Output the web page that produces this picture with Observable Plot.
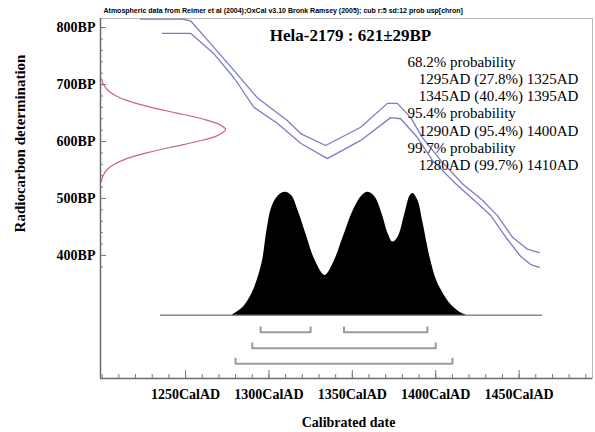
<!DOCTYPE html>
<html>
<head>
<meta charset="utf-8">
<script src="https://cdn.jsdelivr.net/npm/d3@7"></script>
<script src="https://cdn.jsdelivr.net/npm/@observablehq/plot@0.6"></script>
<style>
  html, body { margin: 0; padding: 0; background: #fff; }
  #chart svg { display: block; }
</style>
</head>
<body>
<div id="chart"></div>
<script>
// Sample Hela-2179, radiocarbon age 621 ± 29 BP
const sampleName = "Hela-2179";
const c14Age = 621;
const c14Err = 29;

// Measured radiocarbon age distribution (left, red): BP and relative density
const redBP =      [530, 540, 550, 560, 570, 580, 590, 600, 610, 621, 630, 640, 650, 660, 670, 680, 690, 700, 710];
const redDensity = [0.007, 0.02, 0.05, 0.11, 0.21, 0.37, 0.565, 0.77, 0.93, 1.0, 0.95, 0.81, 0.61, 0.405, 0.24, 0.126, 0.059, 0.024, 0.009];

// Calibration curve band (upper and lower 1σ lines)
const calUpperYear = [1223, 1248, 1253, 1265, 1279, 1293, 1311, 1319, 1334, 1355, 1371, 1377, 1385, 1392, 1403, 1416, 1428, 1437, 1446, 1455, 1462];
const calUpperBP   = [815, 815, 812, 772, 725, 677, 637, 614, 593, 625, 667, 667, 642, 607, 567, 526, 497, 470, 432, 411, 405];
const calLowerYear = [1236, 1253, 1267, 1279, 1291, 1305, 1319, 1335, 1355, 1373, 1379, 1389, 1398, 1412, 1423, 1433, 1442, 1451, 1457, 1462];
const calLowerBP   = [790, 790, 754, 712, 660, 632, 597, 570, 602, 642, 640, 607, 567, 526, 497, 470, 432, 398, 384, 379];

// Calibrated date probability distribution (black)
const distYear = [1277.8, 1284.6, 1290.6, 1295.8, 1298.8, 1301.8, 1305.6, 1309.8, 1313.8, 1317.5, 1322.8, 1327.7, 1333.7,
                  1338.5, 1344.5, 1350.5, 1355.7, 1359.5, 1363.7, 1367.7, 1371.4, 1374.3, 1377.4, 1381.6, 1384.6, 1386.4,
                  1389.4, 1392.4, 1396.6, 1400.6, 1404.4, 1409.6, 1415.6, 1418.6];
const distProb = [0, 0.065, 0.2, 0.42, 0.69, 0.88, 0.97, 1.0, 0.97, 0.85, 0.635, 0.446, 0.324,
                  0.42, 0.635, 0.85, 0.97, 1.0, 0.96, 0.83, 0.665, 0.595, 0.635, 0.83, 0.97, 0.99,
                  0.93, 0.75, 0.47, 0.28, 0.18, 0.08, 0.016, 0];

// Calibrated ranges
const levelNames  = ["68.2%", "95.4%", "99.7%"];
const rangeLevel  = [0, 0, 1, 2];
const rangeStart  = [1295, 1345, 1290, 1280];
const rangeEnd    = [1325, 1395, 1400, 1410];
const rangePct    = ["27.8%", "40.4%", "95.4%", "99.7%"];

// Axis ticks and labels
const xMajorTicks = [1250, 1300, 1350, 1400, 1450];
const xTickLabels = ["1250CalAD", "1300CalAD", "1350CalAD", "1400CalAD", "1450CalAD"];
const yMajorTicks = [400, 500, 600, 700, 800];
const yTickLabels = ["400BP", "500BP", "600BP", "700BP", "800BP"];

const headerText = "Atmospheric data from Reimer et al (2004);OxCal v3.10 Bronk Ramsey (2005); cub r:5 sd:12 prob usp[chron]";
const xTitle = "Calibrated date";
const yTitle = "Radiocarbon determination";

// ---- layout constants ----
const W = 595, H = 432;
const M = {left: 100, right: 3, top: 18, bottom: 54};
const xDomain = [1199, 1494];
const yDomain = [184, 816];
const pxPerYear = (W - M.left - M.right) / (xDomain[1] - xDomain[0]);
const pxPerBP = (H - M.top - M.bottom) / (yDomain[1] - yDomain[0]);
const redSpan = 75;          // years of horizontal extent for the red density peak
const distBase = 295;        // BP level of the distribution baseline
const distSpan = 216;        // BP height of the distribution peak
const baseFrom = 1235, baseTo = 1464;
const bracketBP = [265, 237, 210];
const bracketTick = 9;

const xMinorTicks = d3.range(1200, 1491, 10);
const yMinorTicks = d3.range(380, 801, 20);

// bracket paths for each range
const bracketPts = [];
rangeStart.forEach((s, i) => {
  const e = rangeEnd[i];
  const yb = bracketBP[rangeLevel[i]];
  bracketPts.push({id: i, x: s, y: yb + bracketTick}, {id: i, x: s, y: yb},
                  {id: i, x: e, y: yb}, {id: i, x: e, y: yb + bracketTick});
});

// probability text block
const probLines = [];
levelNames.forEach((lv, k) => {
  probLines.push(`${lv} probability`);
  rangeStart.forEach((s, i) => {
    if (rangeLevel[i] === k) probLines.push(`\u00a0\u00a0\u00a0${s}AD (${rangePct[i]}) ${rangeEnd[i]}AD`);
  });
});

const blue = "#7c7cc6";
const red = "#cc6678";
const tickColor = "#777";
const idx = n => d3.range(n);

// inward ticks: length in pixels converted to data units
const xTickRule = (ticks, len) => Plot.ruleX(ticks, {x: d => d, y1: yDomain[0], y2: yDomain[0] + len / pxPerBP, stroke: tickColor});
const yTickRule = (ticks, len) => Plot.ruleY(ticks, {y: d => d, x1: xDomain[0], x2: xDomain[0] + len / pxPerYear, stroke: tickColor});

const chart = Plot.plot({
  width: W,
  height: H,
  marginLeft: M.left,
  marginRight: M.right,
  marginTop: M.top,
  marginBottom: M.bottom,
  style: {fontFamily: "'Liberation Serif', 'Times New Roman', serif", fontSize: "14px", color: "#000", background: "#fff"},
  x: {domain: xDomain, label: null},
  y: {domain: yDomain, label: null},
  marks: [
    Plot.frame({stroke: "#b8b8b8"}),
    // distribution baseline and black probability area
    Plot.ruleY([distBase], {x1: baseFrom, x2: baseTo, stroke: "#8a8a8a", strokeWidth: 1.5}),
    Plot.areaY(idx(distYear.length), {
      x: i => distYear[i], y1: distBase, y2: i => distBase + distProb[i] * distSpan,
      fill: "#000", curve: "catmull-rom"
    }),
    // range brackets
    Plot.line(bracketPts, {x: "x", y: "y", z: "id", stroke: "#9a9a9a", strokeWidth: 2}),
    // calibration curve
    Plot.line(idx(calUpperYear.length), {x: i => calUpperYear[i], y: i => calUpperBP[i], stroke: blue, strokeWidth: 1.3, strokeLinejoin: "round", clip: true}),
    Plot.line(idx(calLowerYear.length), {x: i => calLowerYear[i], y: i => calLowerBP[i], stroke: blue, strokeWidth: 1.3, strokeLinejoin: "round", clip: true}),
    // measured radiocarbon distribution
    Plot.line(idx(redBP.length), {
      x: i => xDomain[0] + redDensity[i] * redSpan, y: i => redBP[i],
      stroke: red, strokeWidth: 1.2, curve: "catmull-rom", clip: true
    }),
    // axis lines
    Plot.ruleX([xDomain[0]], {stroke: "#6a6a6a", strokeWidth: 1.5}),
    Plot.ruleY([yDomain[0]], {stroke: "#6a6a6a", strokeWidth: 1.5}),
    // inward ticks
    xTickRule(xMinorTicks, 4),
    xTickRule(xMajorTicks, 8),
    yTickRule(yMinorTicks, 3),
    yTickRule(yMajorTicks, 6),
    // tick labels
    Plot.axisX({ticks: xMajorTicks, tickSize: 0, tickPadding: 11, fontSize: 14, fontWeight: "bold",
      tickFormat: d => xTickLabels[xMajorTicks.indexOf(d)], label: null}),
    Plot.axisY({ticks: yMajorTicks, tickSize: 0, tickPadding: 5, fontSize: 14, fontWeight: "bold",
      tickFormat: d => yTickLabels[yMajorTicks.indexOf(d)], label: null}),
    // axis titles
    Plot.text([xTitle], {frameAnchor: "bottom", dx: 2, dy: 44, lineAnchor: "middle", fontSize: 14, fontWeight: "bold"}),
    Plot.text([yTitle], {frameAnchor: "left", textAnchor: "middle", lineAnchor: "middle", rotate: -90, dx: -80, dy: -55, fontSize: 15, fontWeight: "bold"}),
    // header line
    Plot.text([headerText], {frameAnchor: "top-left", dx: 3, dy: -8, lineAnchor: "middle", textAnchor: "start",
      fontSize: 7, fontWeight: "bold", fontFamily: "'Liberation Sans', Arial, sans-serif"}),
    // sample title
    Plot.text([`${sampleName} : ${c14Age}\u00b1${c14Err}BP`], {frameAnchor: "top", dx: 4, dy: 10, fontSize: 17, fontWeight: "bold"}),
    // probability ranges text
    Plot.text([probLines.join("\n")], {frameAnchor: "top-left", dx: 307, dy: 36, textAnchor: "start",
      fontSize: 15, lineHeight: 1.147})
  ]
});

document.getElementById("chart").appendChild(chart);
</script>
</body>
</html>
